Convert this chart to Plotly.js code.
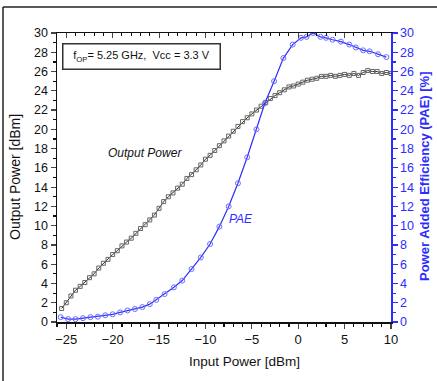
<!DOCTYPE html>
<html>
<head>
<meta charset="utf-8">
<script src="https://cdn.plot.ly/plotly-3.0.1.min.js"></script>
<style>html,body{margin:0;padding:0;background:#fff;}#chart{width:437px;height:381px;}</style>
</head>
<body>
<div id="chart"></div>
<script>
// Output power (dBm) vs input power (dBm)
const pinOut = [-25.5,-25,-24.5,-24,-23.5,-23,-22.5,-22,-21.5,-21,-20.5,-20,-19.5,-19,-18.5,-18,-17.5,-17,-16.5,-16,-15.5,-15,-14.5,-14,-13.5,-13,-12.5,-12,-11.5,-11,-10.5,-10,-9.5,-9,-8.5,-8,-7.5,-7,-6.5,-6,-5.5,-5,-4.5,-4,-3.5,-3,-2.5,-2,-1.5,-1,-0.5,0,0.5,1,1.5,2,2.5,3,3.5,4,4.5,5,5.5,6,6.5,7,7.5,8,8.5,9,9.5,10];
const pout = [1.4,2.0,2.7,3.3,3.7,4.1,4.6,5.0,5.6,6.1,6.5,7.0,7.4,7.9,8.3,8.7,9.2,9.7,10.1,10.6,11.1,11.8,12.5,13.0,13.4,13.9,14.3,14.9,15.3,15.8,16.3,16.9,17.3,17.8,18.3,18.8,19.3,19.8,20.3,20.8,21.2,21.6,22.0,22.4,22.8,23.2,23.5,23.8,24.1,24.4,24.5,24.7,24.9,25.1,25.2,25.3,25.5,25.5,25.6,25.5,25.6,25.7,25.6,25.8,25.6,25.9,26.1,26.0,26.0,25.8,25.9,25.8];
// Power added efficiency (%) vs input power (dBm)
const pinPae = [-25.6,-24.8,-24.0,-23.2,-22.4,-21.6,-20.8,-20.0,-19.2,-18.4,-17.6,-16.8,-16.0,-15.3,-14.4,-13.4,-12.5,-11.5,-10.5,-9.5,-8.5,-7.5,-6.5,-5.5,-4.5,-3.6,-2.6,-1.6,-0.6,0.3,0.9,1.6,2.4,3.0,3.7,4.6,5.5,6.2,7.0,7.7,8.6,9.5];
const pae = [0.5,0.3,0.3,0.4,0.5,0.55,0.7,0.8,1.0,1.2,1.35,1.55,1.85,2.3,2.9,3.6,4.3,5.5,6.7,8.1,9.9,12.0,14.4,17.1,20.0,22.7,25.0,27.4,28.8,29.5,29.6,30.0,29.6,29.5,29.3,29.1,28.8,28.5,28.2,28.1,27.8,27.5];

const xTitle = "Input Power [dBm]";
const yTitle = "Output Power [dBm]";
const y2Title = "Power Added Efficiency (PAE) [%]";
const boxText = "f<sub>OP</sub>= 5.25 GHz,  Vcc = 3.3 V";
const label1 = "Output Power";
const label2 = "PAE";

const BLUE = "#2d2dff";
const W = 437, H = 381, L = 57, R = 46, T = 33, B = 59;
const pw = W - L - R, ph = H - T - B;
const px = x => (x - L) / pw;
const py = y => 1 - (y - T) / ph;

const traces = [
  {x: pinOut, y: pout, type: "scatter", mode: "lines+markers", xaxis: "x", yaxis: "y",
   line: {color: "#333", width: 1},
   marker: {symbol: "square-open", size: 4, color: "#666", line: {width: 1}}},
  {x: pinPae, y: pae, type: "scatter", mode: "lines+markers", xaxis: "x2", yaxis: "y2",
   line: {color: BLUE, width: 1.2},
   marker: {symbol: "circle-open", size: 5, color: "#6b6bff", line: {width: 1}}}
];

const tickFont = {family: "Liberation Sans, Arial, sans-serif", size: 12.5, color: "#111"};
const layout = {
  width: W, height: H,
  margin: {l: L, r: R, t: T, b: B, pad: 0},
  paper_bgcolor: "#fff", plot_bgcolor: "#fff",
  showlegend: false,
  xaxis: {range: [-26, 10], tick0: 0, dtick: 5, ticks: "outside", ticklen: 5, tickwidth: 1.2,
    showline: true, linecolor: "#111", linewidth: 1.5, showgrid: false, zeroline: false,
    tickfont: Object.assign({}, tickFont, {size: 13}), minor: {dtick: 1, ticks: "outside", ticklen: 3, tickcolor: "#111"}},
  xaxis2: {matches: "x", overlaying: "x", side: "top", range: [-26, 10], tick0: 0, dtick: 5,
    ticks: "inside", ticklen: 5, showticklabels: false, showline: true, linecolor: "#111", linewidth: 1.5,
    showgrid: false, zeroline: false, minor: {dtick: 1, ticks: "inside", ticklen: 3, tickcolor: "#111"}},
  yaxis: {range: [0, 30], dtick: 2, ticks: "outside", ticklen: 5, tickwidth: 1.2,
    showline: true, linecolor: "#111", linewidth: 1.5, showgrid: false, zeroline: false,
    tickfont: tickFont, minor: {dtick: 1, ticks: "outside", ticklen: 3, tickcolor: "#111"}},
  yaxis2: {range: [0, 30], dtick: 2, overlaying: "y", side: "right", anchor: "x2",
    ticks: "outside", ticklen: 5, tickwidth: 1.2, tickcolor: BLUE,
    showline: true, linecolor: BLUE, linewidth: 1.5, showgrid: false, zeroline: false,
    tickfont: Object.assign({}, tickFont, {color: BLUE}),
    minor: {dtick: 1, ticks: "outside", ticklen: 3, tickcolor: BLUE}},
  annotations: [
    {xref: "paper", yref: "paper", x: px(244), y: py(362), text: xTitle, showarrow: false,
     font: {family: "Liberation Sans, Arial, sans-serif", size: 13.5, color: "#111"}, xanchor: "center", yanchor: "middle"},
    {xref: "paper", yref: "paper", x: px(15), y: py(177), text: yTitle, showarrow: false, textangle: -90,
     font: {family: "Liberation Sans, Arial, sans-serif", size: 14, color: "#111"}, xanchor: "center", yanchor: "middle"},
    {xref: "paper", yref: "paper", x: px(424), y: py(177), text: "<b>" + y2Title + "</b>", showarrow: false, textangle: -90,
     font: {family: "Liberation Sans, Arial, sans-serif", size: 13, color: BLUE}, xanchor: "center", yanchor: "middle"},
    {xref: "paper", yref: "paper", x: px(141.5), y: py(56), text: boxText, showarrow: false,
     font: {family: "Liberation Sans, Arial, sans-serif", size: 11, color: "#111"}, xanchor: "center", yanchor: "middle",
     bordercolor: "#333", borderwidth: 1.5, borderpad: 3, width: 150, height: 18, bgcolor: "#fff"},
    {xref: "paper", yref: "paper", x: px(145), y: py(153), text: "<i>" + label1 + "</i>", showarrow: false,
     font: {family: "Liberation Sans, Arial, sans-serif", size: 12, color: "#111"}, xanchor: "center", yanchor: "middle"},
    {xref: "paper", yref: "paper", x: px(241), y: py(219), text: "<i>" + label2 + "</i>", showarrow: false,
     font: {family: "Liberation Sans, Arial, sans-serif", size: 12, color: BLUE}, xanchor: "center", yanchor: "middle"}
  ],
  shapes: [
    {type: "line", xref: "paper", yref: "paper", x0: px(3), x1: px(3), y0: py(7), y1: py(383), line: {color: "#222", width: 1.5}},
    {type: "line", xref: "paper", yref: "paper", x0: px(3), x1: px(440), y0: py(7), y1: py(7), line: {color: "#222", width: 1.5}}
  ]
};

Plotly.newPlot("chart", traces, layout, {displayModeBar: false, staticPlot: true});
</script>
</body>
</html>
